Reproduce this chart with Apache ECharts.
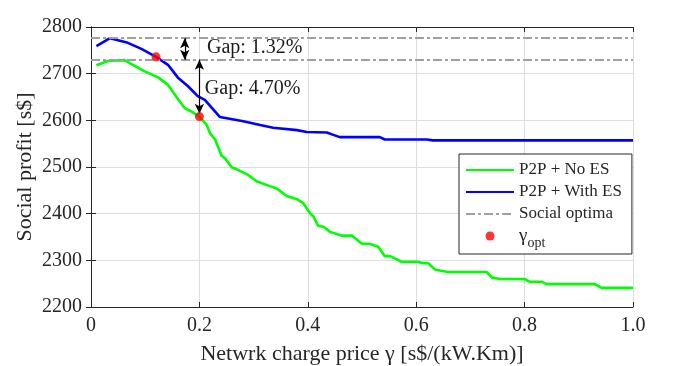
<!DOCTYPE html>
<html>
<head>
<meta charset="utf-8">
<script src="https://cdn.jsdelivr.net/npm/echarts@6/dist/echarts.min.js"></script>
<style>
  html, body { margin: 0; padding: 0; background: #fff; }
  #chart { width: 700px; height: 366px; }
</style>
</head>
<body>
<div id="chart"></div>
<script>
// network charge price (x) and social profit (y)
var gammaNoES = [0.01, 0.031, 0.062, 0.074, 0.099, 0.124, 0.142, 0.157, 0.173, 0.185, 0.2, 0.213, 0.22, 0.229,
  0.241, 0.247, 0.26, 0.269, 0.29, 0.306, 0.33, 0.343, 0.361, 0.38, 0.392, 0.404, 0.41, 0.419, 0.429, 0.441,
  0.462, 0.481, 0.49, 0.499, 0.515, 0.53, 0.542, 0.552, 0.573, 0.601, 0.613, 0.622, 0.635, 0.659, 0.73, 0.74,
  0.755, 0.8, 0.81, 0.832, 0.841, 0.93, 0.942, 1.0];
var profitNoES = [2718, 2727, 2729, 2721, 2705, 2692, 2676, 2651, 2626, 2619, 2608, 2591, 2572, 2559,
  2524, 2519, 2499, 2495, 2483, 2469, 2459, 2454, 2438, 2431, 2422, 2401, 2395, 2374, 2372, 2361,
  2353, 2353, 2345, 2336, 2335, 2329, 2309, 2309, 2297, 2297, 2294, 2294, 2280, 2275, 2275, 2263,
  2260, 2260, 2254, 2254, 2249, 2249, 2241, 2241];

var gammaWithES = [0.01, 0.035, 0.068, 0.093, 0.12, 0.142, 0.16, 0.179, 0.197, 0.21, 0.238, 0.281, 0.312,
  0.336, 0.38, 0.398, 0.435, 0.459, 0.533, 0.542, 0.62, 0.63, 1.0];
var profitWithES = [2759, 2776, 2766, 2753, 2736, 2719, 2692, 2673, 2652, 2644, 2607, 2598, 2590,
  2584, 2579, 2575, 2574, 2564, 2564, 2559, 2559, 2557, 2557];

var socialOptima = [2776, 2730];
var gammaOpt = [[0.12, 2736], [0.2, 2608]];

// gap annotations: arrow x, arrow from/to, label anchor
var gapArrows = [[0.173, 2776, 2730], [0.2, 2730, 2614]];
var gapLabels = [['Gap: 1.32%', 0.214, 2756], ['Gap: 4.70%', 0.21, 2668]];

var xTicks = ['0', '0.2', '0.4', '0.6', '0.8', '1.0'];
var yTicks = ['2200', '2300', '2400', '2500', '2600', '2700', '2800'];

function zip(xs, ys) {
  return xs.map(function (x, i) { return [x, ys[i]]; });
}

var serif = 'Liberation Serif, Times New Roman, serif';
var ink = '#262626';
var chart = echarts.init(document.getElementById('chart'));

var boxAxis = {
  axisLine: { show: true, lineStyle: { color: ink, width: 1 } },
  axisTick: { show: true, inside: true, length: 5, lineStyle: { color: ink } },
  axisLabel: { show: false },
  splitLine: { show: false }
};

var noDot = { opacity: 0 };

chart.setOption({
  animation: false,
  backgroundColor: '#fff',
  textStyle: { fontFamily: serif },
  grid: { left: 91, right: 67, top: 27, bottom: 59, containLabel: false, outerBoundsMode: 'none' },
  legend: {
    data: [
      { name: 'P2P + No ES', itemStyle: noDot },
      { name: 'P2P + With ES', itemStyle: noDot },
      { name: 'Social optima', itemStyle: noDot },
      { name: 'gamma_opt' }
    ],
    orient: 'vertical',
    left: 459,
    top: 154,
    padding: [6, 10, 4, 6],
    itemGap: 2,
    itemWidth: 48,
    itemHeight: 9,
    backgroundColor: '#fff',
    borderColor: ink,
    borderWidth: 1,
    borderRadius: 0,
    textStyle: {
      fontFamily: serif, fontSize: 17, color: ink, lineHeight: 20,
      rich: {
        g: { fontFamily: serif, fontSize: 19, color: ink, lineHeight: 20 },
        s: { fontFamily: serif, fontSize: 14, color: ink, padding: [14, 0, 0, 0] }
      }
    },
    formatter: function (name) {
      return name === 'gamma_opt' ? '{g|γ}{s|opt}' : name;
    }
  },
  xAxis: [
    {
      type: 'value', min: 0, max: 1, interval: 0.2,
      name: 'Netwrk charge price γ [s$/(kW.Km)]',
      nameLocation: 'middle', nameGap: 36,
      nameTextStyle: { fontFamily: serif, fontSize: 22, color: ink },
      axisLine: { show: true, lineStyle: { color: ink, width: 1 } },
      axisTick: { show: true, inside: true, length: 5, lineStyle: { color: ink } },
      axisLabel: {
        fontFamily: serif, fontSize: 20, color: ink, margin: 9,
        formatter: function (v) { return xTicks[Math.round(v / 0.2)]; }
      },
      splitLine: { show: true, lineStyle: { color: '#dedede', width: 1 } }
    },
    Object.assign({ type: 'value', min: 0, max: 1, interval: 0.2, position: 'top' }, boxAxis)
  ],
  yAxis: [
    {
      type: 'value', min: 2200, max: 2800, interval: 100,
      name: 'Social profit [s$]',
      nameLocation: 'middle', nameGap: 55, nameMoveOverlap: false,
      nameTextStyle: { fontFamily: serif, fontSize: 22, color: ink },
      axisLine: { show: true, lineStyle: { color: ink, width: 1 } },
      axisTick: { show: true, inside: true, length: 5, lineStyle: { color: ink } },
      axisLabel: {
        fontFamily: serif, fontSize: 20, color: ink, margin: 9,
        formatter: function (v) { return yTicks[Math.round((v - 2200) / 100)]; }
      },
      splitLine: { show: true, lineStyle: { color: '#dedede', width: 1 } }
    },
    Object.assign({ type: 'value', min: 2200, max: 2800, interval: 100, position: 'right' }, boxAxis)
  ],
  series: [
    {
      name: 'Social optima', type: 'line', data: [], symbol: 'none',
      itemStyle: { color: '#a0a0a0' },
      lineStyle: { color: '#a0a0a0', width: 2, type: [9, 3, 3, 3] },
      markLine: {
        silent: true, symbol: 'none', label: { show: false },
        lineStyle: { color: '#a0a0a0', width: 2, type: [9, 3, 3, 3] },
        data: socialOptima.map(function (v) { return { yAxis: v }; })
      }
    },
    {
      name: 'P2P + No ES', type: 'line', data: zip(gammaNoES, profitNoES),
      symbol: 'none', z: 3,
      itemStyle: { color: '#00ff00' },
      lineStyle: { color: '#00ff00', width: 2.6 }
    },
    {
      name: 'P2P + With ES', type: 'line', data: zip(gammaWithES, profitWithES),
      symbol: 'none', z: 3,
      itemStyle: { color: '#0000ff' },
      lineStyle: { color: '#0000ff', width: 2.6 }
    },
    {
      name: 'gamma_opt', type: 'scatter', data: gammaOpt,
      symbol: 'circle', symbolSize: 9, z: 5,
      itemStyle: { color: '#ff0000' }
    },
    {
      name: 'gap', type: 'line', data: [], symbol: 'none', z: 4,
      markLine: {
        silent: true,
        symbol: ['arrow', 'arrow'], symbolSize: [7, 10],
        label: { show: false },
        lineStyle: { color: '#000', width: 1.2, type: 'solid' },
        data: gapArrows.map(function (a) {
          return [{ coord: [a[0], a[1]] }, { coord: [a[0], a[2]] }];
        })
      },
      markPoint: {
        silent: true, symbol: 'circle', symbolSize: 0,
        label: {
          show: true, position: 'right', distance: 0,
          fontFamily: serif, fontSize: 20, color: '#1a1a1a',
          formatter: function (p) { return p.name; }
        },
        data: gapLabels.map(function (g) { return { name: g[0], coord: [g[1], g[2]] }; })
      }
    }
  ]
});
</script>
</body>
</html>
